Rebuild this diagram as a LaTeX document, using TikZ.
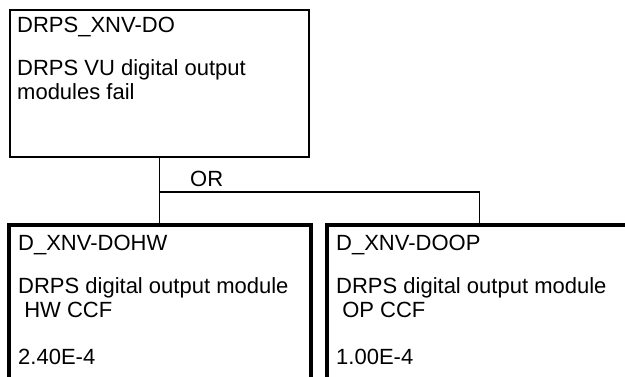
\documentclass[tikz,border=0pt]{standalone}
\usepackage{fontspec}
\setmainfont{Liberation Sans}

\begin{document}
\begin{tikzpicture}[x=1pt,y=-1pt,
  evbox/.style={draw, rectangle, inner sep=0pt, anchor=north west},
  lbl/.style={anchor=base west, inner sep=0pt, font=\fontsize{22}{24}\selectfont}]

\useasboundingbox (0,0) rectangle (625,376);

% Boxes
\node [evbox, line width=2pt, minimum width=299pt, minimum height=147pt] (top) at (9,9) {};
\node [evbox, line width=3.5pt, minimum width=302pt, minimum height=170pt] (hw) at (7,223) {};
\node [evbox, line width=3.5pt, minimum width=305pt, minimum height=170pt] (op) at (325,223) {};

% Top event
\node [lbl] (topid) at (17,32) {DRPS\_XNV-DO};
\node [lbl] (topd1) at (17,75) {DRPS VU digital output};
\node [lbl] (topd2) at (17,99) {modules fail};

% Basic events
\node [lbl] (hwid) at (18,250) {D\_XNV-DOHW};
\node [lbl] (hwd1) at (18,293) {DRPS digital output module};
\node [lbl] (hwd2) at (18,317) {\ HW CCF};
\node [lbl] (hwval) at (18,364) {2.40E-4};

\node [lbl] (opid) at (336,250) {D\_XNV-DOOP};
\node [lbl] (opd1) at (336,293) {DRPS digital output module};
\node [lbl] (opd2) at (336,317) {\ OP CCF};
\node [lbl] (opval) at (336,364) {1.00E-4};

% Gate
\coordinate (split) at (158.5,192);
\draw [line width=1.6pt] (top.south) -- (top.south |- hw.north);
\draw [line width=1.3pt] (split) -| (op.north);
\node [lbl] (gate) at (190,186) {OR};

\end{tikzpicture}
\end{document}
